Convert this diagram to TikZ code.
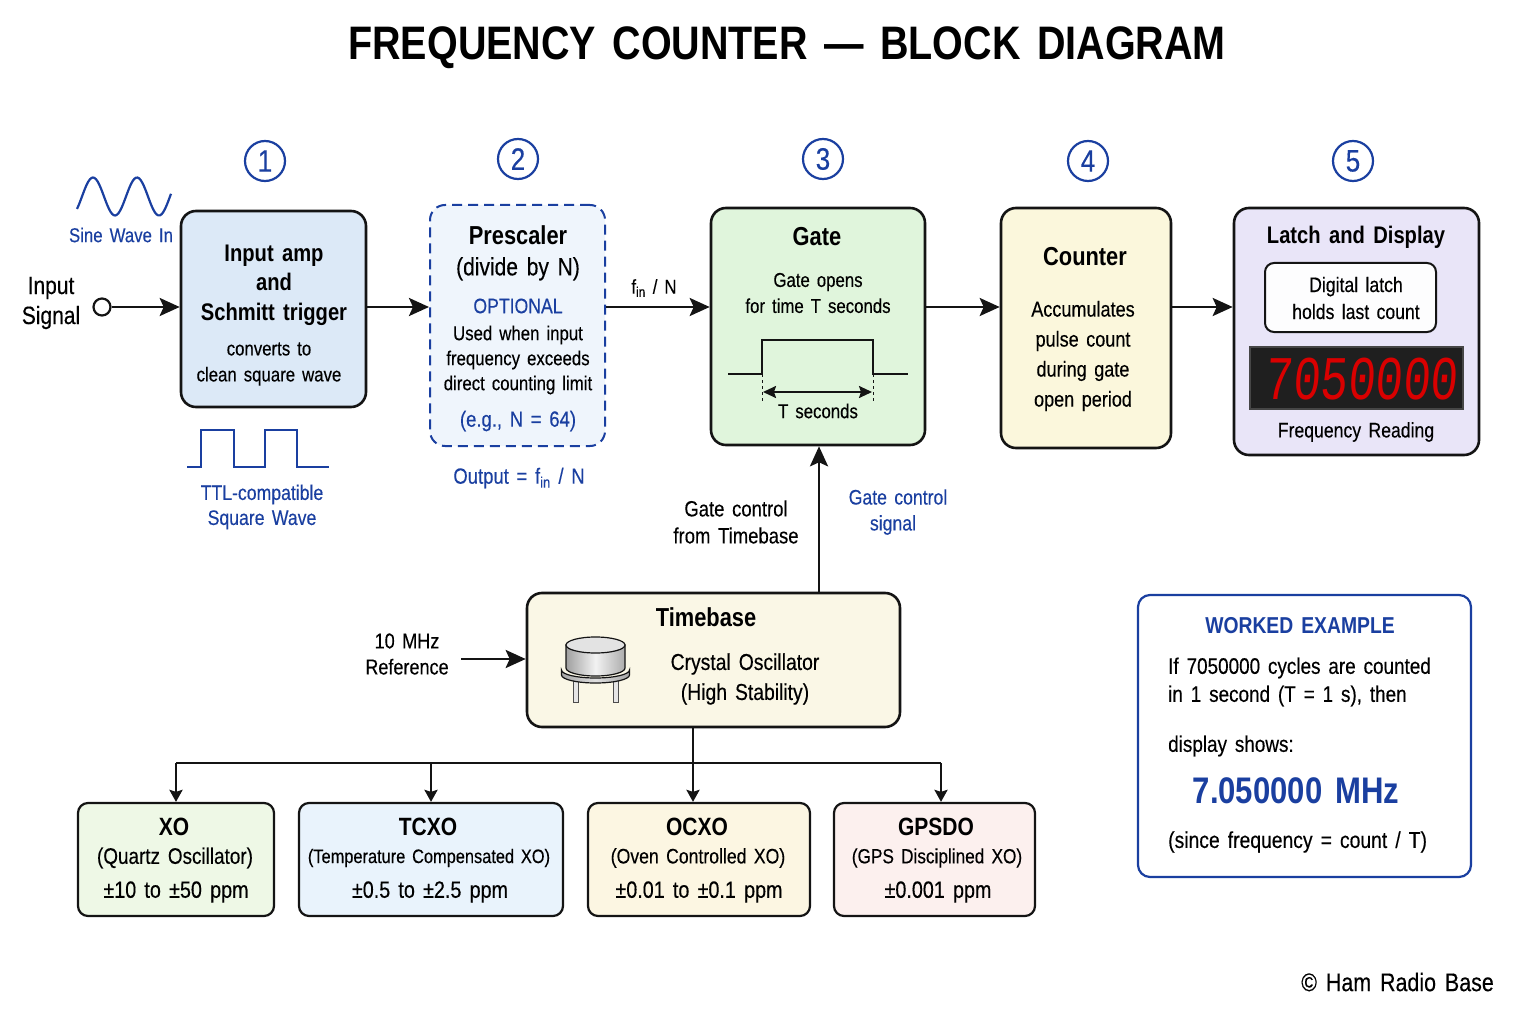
\documentclass[tikz,border=0pt]{standalone}
\usepackage{fontspec}
\setmainfont[FakeStretch=0.84,WordSpace=1.5,UprightFeatures={FakeBold=0.3}]{Liberation Sans}
\newfontfamily\ledfont[FakeStretch=0.74,FakeSlant=0.08]{Liberation Mono}
\usetikzlibrary{arrows.meta,calc}

\definecolor{inkblue}{HTML}{1A3FA0}
\definecolor{inkline}{HTML}{141414}
\definecolor{fillinput}{HTML}{DCE9F7}
\definecolor{fillpres}{HTML}{EFF5FC}
\definecolor{fillgate}{HTML}{E0F5DC}
\definecolor{fillcount}{HTML}{FBF7DC}
\definecolor{filllatch}{HTML}{E9E5F8}
\definecolor{filltime}{HTML}{FAF7E6}
\definecolor{fillxo}{HTML}{EEF8E6}
\definecolor{filltcxo}{HTML}{E9F3FC}
\definecolor{fillocxo}{HTML}{FCF6E2}
\definecolor{fillgps}{HTML}{FCF0EE}

\newcommand{\fs}[2]{\fontsize{#1}{#2}\selectfont}

\tikzset{
  block/.style={draw=inkline, line width=2.6pt, rounded corners=15pt, inner sep=0pt},
  badge/.style={draw=inkblue, line width=2.2pt, circle, minimum size=40pt, inner sep=0pt, text=inkblue, font=\fs{31}{31}},
  wire/.style={draw=inkline, line width=2.8pt},
  flow/.style={wire, -{Stealth[length=20pt,width=18pt,inset=4pt]}},
  drop/.style={wire, -{Stealth[length=12pt,width=13pt,inset=2pt]}},
  wave/.style={draw=inkblue, line width=2.2pt, line join=miter},
  head/.style={align=center, inner sep=0pt, font=\fs{26}{30}\bfseries},
  body/.style={align=center, inner sep=0pt, font=\fs{20}{26}},
  note/.style={align=center, inner sep=0pt, text=inkblue, font=\fs{20}{26}},
  line/.style={anchor=west, inner sep=0pt, font=\fs{22.5}{26}}
}

\begin{document}
\begin{tikzpicture}[x=1pt,y=-1pt]
\useasboundingbox (0,0) rectangle (1536,1024);

% Title
\node[inner sep=0pt, font=\fs{47}{47}\bfseries] (title) at (787,48) {FREQUENCY COUNTER — BLOCK DIAGRAM};

% Step numbers
\foreach \n/\x/\y in {1/265/161,2/518/159,3/823/159,4/1088/161,5/1353/161} {
  \node[badge] (badge\n) at (\x,\y) {\n};
}

% Main chain
\node[block, fill=fillinput, minimum width=185pt, minimum height=196pt] (input) at (273.5,309) {};
\node[block, line width=2pt, dash pattern=on 10pt off 6pt, draw=inkblue, fill=fillpres, minimum width=175pt, minimum height=241pt] (prescaler) at (517.5,325.5) {};
\node[block, fill=fillgate, minimum width=214pt, minimum height=237pt] (gate) at (818,326.5) {};
\node[block, fill=fillcount, minimum width=170pt, minimum height=240pt] (counter) at (1086,328) {};
\node[block, fill=filllatch, minimum width=245pt, minimum height=247pt] (latch) at (1356.5,331.5) {};

% Input side
\node[draw=inkline, line width=2.2pt, circle, fill=white, minimum size=17pt, inner sep=0pt] (insig) at (102,307) {};
\node[inner sep=0pt, align=center, font=\fs{25}{30}] (insigtext) at (51,303) {Input\\Signal};
\draw[wave] plot[smooth, samples=60, domain=77:171] (\x,{196.5-19*sin((\x-82)/44*360)});
\node[note] (sinetext) at (121,235) {Sine Wave In};
\draw[wave] (187,467) -- (201,467) -- (201,430) -- (234,430) -- (234,467) -- (265,467) -- (265,430) -- (297,430) -- (297,467) -- (329,467);
\node[note, font=\fs{21}{25}] (squaretext) at (262,507) {TTL-compatible\\Square Wave};

% Block 1
\node[head, font=\fs{24}{29.5}\bfseries] (inputhead) at (274,285) {Input amp\\and\\Schmitt trigger};
\node[body] (inputbody) at (269,364) {converts to\\clean square wave};

% Block 2
\node[head] (preshead) at (518,253) {Prescaler\\[1pt]{\mdseries\fs{25}{30}(divide by N)}};
\node[note, font=\fs{21}{26}] (presopt) at (518,306) {OPTIONAL};
\node[body, font=\fs{20}{25}] (presbody) at (518,360) {Used when input\\frequency exceeds\\direct counting limit};
\node[note, font=\fs{22}{26}] (presn) at (518,421) {(e.g., N = 64)};
\node[note, font=\fs{22}{26}] (presout) at (519,478) {Output = f\textsubscript{in} / N};
\node[body] (fintext) at (654,288) {f\textsubscript{in} / N};

% Block 3
\node[head] (gatehead) at (817,237) {Gate};
\node[body] (gatebody) at (818,293) {Gate opens\\for time T seconds};
\draw[draw=inkline, line width=2pt] (728,374) -- (762,374) -- (762,340) -- (873,340) -- (873,374) -- (908,374);
\draw[draw=inkline, line width=1pt, dashed] (762,374) -- (762,403);
\draw[draw=inkline, line width=1pt, dashed] (873,374) -- (873,403);
\draw[draw=inkline, line width=2pt, {Stealth[length=13pt,width=12pt,inset=2pt]}-{Stealth[length=13pt,width=12pt,inset=2pt]}] (763,392) -- (872,392);
\node[body] (gatetime) at (818,411) {T seconds};

% Block 4
\node[head] (counthead) at (1085,257) {Counter};
\node[body, font=\fs{21.5}{30}] (countbody) at (1083,356) {Accumulates\\pulse count\\during gate\\open period};

% Block 5
\node[head, font=\fs{24}{30}\bfseries] (latchhead) at (1356,237) {Latch and Display};
\node[block, line width=2pt, rounded corners=9pt, fill=white!92!filllatch, minimum width=171pt, minimum height=69pt] (latchbox) at (1350.5,297.5) {};
\node[body, font=\fs{21}{27}] (latchtext) at (1356,298) {Digital latch\\holds last count};
\node[draw=gray!55!black, line width=2pt, fill=black!88, minimum width=213pt, minimum height=62pt, inner sep=0pt] (display) at (1356.5,378) {};
\node[inner sep=0pt, text=red!85!black, font=\ledfont\fs{62}{62}] (displaytext) at (1361,379) {7050000};
\node[body, font=\fs{21}{26}] (latchread) at (1356,432) {Frequency Reading};

% Timebase
\node[block, fill=filltime, minimum width=373pt, minimum height=134pt] (timebase) at (713.5,660) {};
\node[head] (timehead) at (706,617) {Timebase};
\node[body, font=\fs{23}{30}] (timebody) at (745,679) {Crystal Oscillator\\(High Stability)};

% Crystal can
\foreach \lx in {575.5,615.5} {
  \draw[draw=gray!60!black, fill=gray!20, line width=1pt] (\lx-2.5,678) rectangle (\lx+2.5,702);
}
\draw[draw=inkline, left color=gray!70, right color=gray!70, middle color=gray!25, line width=1.2pt]
  (561.5,670) -- (561.5,675) arc[start angle=180, end angle=0, x radius=34, y radius=8] -- (629.5,670) arc[start angle=0, end angle=180, x radius=34, y radius=8] -- cycle;
\draw[draw=inkline, left color=gray!75, right color=gray!65, middle color=gray!10, line width=1.2pt]
  (566,645) -- (566,668) arc[start angle=180, end angle=0, x radius=29.5, y radius=8] -- (625,645) -- cycle;
\draw[draw=inkline, fill=gray!22, line width=1.2pt] (595.5,645) ellipse [x radius=29.5, y radius=8];

% Reference feed
\node[inner sep=0pt, align=center, font=\fs{21.5}{26}] (reftext) at (407,654) {10 MHz\\Reference};
\coordinate (refin) at (461,659);
\draw[flow] (refin) -- (timebase.west |- refin);

% Gate control
\coordinate (gatefeed) at (819,520);
\node[body, font=\fs{22}{27}] (ctltext) at (736,522) {Gate control\\from Timebase};
\node[note, font=\fs{21}{28}] (ctlnote) at (898,497) {Gate control};
\node[note, font=\fs{21}{28}] (ctlsignal) at (893,525) {signal};
\draw[flow] (timebase.north -| gatefeed) -- (gate.south -| gatefeed);

% Chain arrows
\coordinate (chain) at (0,307);
\draw[flow] (insig.east) -- (input.west |- chain);
\draw[flow] (input.east |- chain) -- (prescaler.west |- chain);
\draw[flow] (prescaler.east |- chain) -- (gate.west |- chain);
\draw[flow] (gate.east |- chain) -- (counter.west |- chain);
\draw[flow] (counter.east |- chain) -- (latch.west |- chain);

% Oscillator types
\foreach \nm/\cx/\tx/\bwid/\col/\hd/\bsub/\subfs/\ppm in {
  xo/176/174/196/fillxo/XO/(Quartz Oscillator)/22.5/±10 to ±50 ppm,
  tcxo/431/428/264/filltcxo/TCXO/(Temperature Compensated XO)/19.5/±0.5 to ±2.5 ppm,
  ocxo/699/697/222/fillocxo/OCXO/(Oven Controlled XO)/21/±0.01 to ±0.1 ppm,
  gpsdo/934.5/936/201/fillgps/GPSDO/(GPS Disciplined XO)/20.5/±0.001 ppm} {
  \node[block, line width=2.2pt, rounded corners=10pt, fill=\col, minimum width=\bwid pt, minimum height=113pt] (\nm) at (\cx,859.5) {};
  \node[inner sep=0pt, font=\fs{25}{25}\bfseries] (\nm head) at (\tx,827) {\hd};
  \node[inner sep=0pt, font=\fs{\subfs}{25}] (\nm sub) at (\tx+1,858) {\bsub};
  \node[inner sep=0pt, font=\fs{23.5}{25}] (\nm ppm) at (\tx+2,892) {\ppm};
}

% Oscillator bus
\coordinate (busmid) at (693,763);
\coordinate (busend) at (941,763);
\draw[wire] (timebase.south -| busmid) -- (busmid);
\draw[wire] (xo.north |- busmid) -- (busend);
\draw[drop] (xo.north |- busmid) -- (xo.north);
\draw[drop] (tcxo.north |- busmid) -- (tcxo.north);
\draw[drop] (busmid) -- (ocxo.north -| busmid);
\draw[drop] (busend) -- (gpsdo.north -| busend);

% Worked example
\node[block, draw=inkblue, line width=2.2pt, rounded corners=12pt, fill=white, minimum width=333pt, minimum height=282pt] (worked) at (1304.5,736) {};
\node[inner sep=0pt, text=inkblue, font=\fs{23}{24}\bfseries] (workedhead) at (1300,626) {WORKED EXAMPLE};
\node[line] (workeda) at (1168,668) {If 7050000 cycles are counted};
\node[line] (workedb) at (1168,696) {in 1 second (T = 1 s), then};
\node[line] (workedc) at (1168,746) {display shows:};
\node[inner sep=0pt, text=inkblue, font=\fs{37}{37}\bfseries] (workedval) at (1296,791) {7.050000 MHz};
\node[line, font=\fs{23}{26}] (workedd) at (1168,842) {(since frequency = count / T)};

% Credit
\node[anchor=east, inner sep=0pt, font=\fs{25.5}{25}] (credit) at (1494,982) {© Ham Radio Base};

\end{tikzpicture}
\end{document}
